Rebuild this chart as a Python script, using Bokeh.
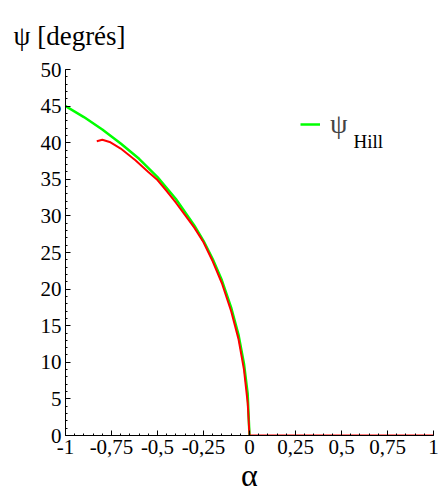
from bokeh.plotting import figure
from bokeh.models import (Range1d, SingleIntervalTicker, CustomJSTickFormatter,
                          Label, Legend, LegendItem)
from bokeh.embed import file_html
from bokeh.resources import INLINE

# Hill criterion curve (green)
alpha_hill = [-1.0, -0.9, -0.8, -0.7, -0.6, -0.5, -0.4, -0.3, -0.25, -0.2, -0.15,
              -0.1, -0.06, -0.03, -0.01, 0.0]
psi_hill = [45.0, 43.5, 41.8, 39.9, 37.8, 35.3, 32.3, 28.7, 26.6, 24.1, 21.2,
            17.5, 13.8, 9.8, 5.7, 0.0]

# Computed curve (red)
alpha_red = [-0.83, -0.80, -0.76, -0.70, -0.62, -0.55, -0.50, -0.45, -0.40, -0.35,
             -0.30, -0.25, -0.20, -0.15, -0.10, -0.06, -0.03, -0.01, 0.0, 1.0]
psi_red = [40.2, 40.4, 40.1, 39.2, 37.6, 36.0, 34.9, 33.4, 31.8, 30.1,
           28.4, 26.4, 23.8, 20.8, 17.0, 13.2, 9.0, 4.5, 0.0, 0.0]

FONT = "Liberation Serif"

p = figure(width=439, height=495, output_backend="svg", toolbar_location=None,
           x_range=Range1d(-1, 1), y_range=Range1d(0, 50),
           min_border_left=65, min_border_right=6, min_border_top=69,
           min_border_bottom=58)
p.outline_line_color = None
p.xgrid.visible = False
p.ygrid.visible = False

g = p.line(alpha_hill, psi_hill, line_color="#00ff00", line_width=2.5)
p.line(alpha_red, psi_red, line_color="#ff0000", line_width=2)

p.xaxis.ticker = SingleIntervalTicker(interval=0.25, num_minor_ticks=5)
p.yaxis.ticker = SingleIntervalTicker(interval=5, num_minor_ticks=5)
p.xaxis.formatter = CustomJSTickFormatter(
    code="var v = Math.round(tick*100)/100; return v.toString().replace('.', ',');")

for ax in (p.xaxis, p.yaxis):
    ax.major_tick_in = 5
    ax.major_tick_out = 0
    ax.minor_tick_in = 2
    ax.minor_tick_out = 0
    ax.axis_line_color = "black"
    ax.major_tick_line_color = "black"
    ax.minor_tick_line_color = "black"
    ax.major_label_text_font = FONT
    ax.major_label_text_font_size = "21px"
    ax.major_label_text_color = "black"
    ax.major_label_standoff = 4

p.xaxis.axis_label = "α"
p.xaxis.axis_label_text_font = FONT
p.xaxis.axis_label_text_font_size = "32px"
p.xaxis.axis_label_text_font_style = "normal"
p.xaxis.axis_label_text_color = "black"
p.xaxis.axis_label_standoff = 0

p.title.text = "ψ [degrés]"
p.title.align = "left"
p.title.offset = -52
p.title.text_font = FONT
p.title.text_font_size = "27px"
p.title.text_font_style = "normal"
p.title.text_color = "black"
p.title.text_line_height = 1.0
p.title.standoff = 37

legend = Legend(items=[LegendItem(label="ψ", renderers=[g])],
                location=(235, 295), glyph_width=20, label_standoff=10,
                padding=0, margin=0, border_line_color=None,
                background_fill_alpha=0, label_text_font=FONT,
                label_text_font_size="28px")
p.add_layout(legend)

sub = Label(x=0.565, y=40.17, text="Hill", text_font=FONT, text_font_size="19px",
            text_color="black", text_baseline="alphabetic", text_align="left")
p.add_layout(sub)

open("out.html", "w").write(file_html(p, INLINE))
